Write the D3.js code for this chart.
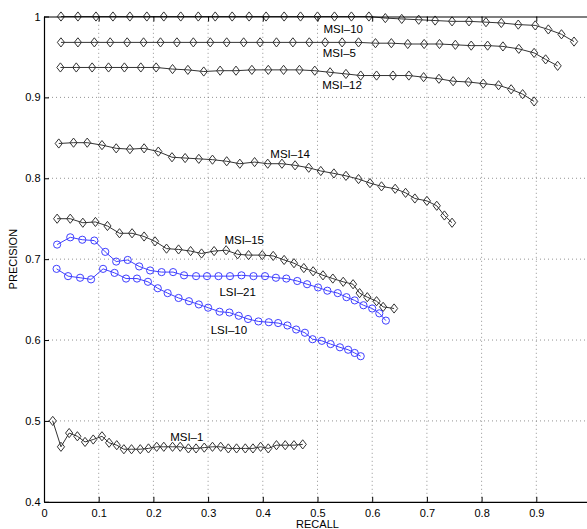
<!DOCTYPE html>
<html>
<head>
<meta charset="utf-8">
<script src="https://cdn.jsdelivr.net/npm/d3@7"></script>
<style>
  html, body { margin: 0; padding: 0; background: #fff; }
  svg { display: block; font-family: "Liberation Sans", Arial, Helvetica, sans-serif; }
  .tick text { font-size: 11px; fill: #000; }
  .curve-label { font-size: 11.5px; fill: #000; }
  .axis-title { font-size: 11px; fill: #000; }
</style>
</head>
<body>
<div id="chart"></div>
<script>
// precision / recall per run
const msi10Recall = [0.031,0.062,0.095,0.126,0.157,0.188,0.219,0.250,0.282,0.313,0.344,0.375,0.406,0.439,0.469,0.500,0.531,0.562,0.594,0.624,0.654,0.685,0.715,0.746,0.777,0.808,0.836,0.867,0.898,0.922,0.946,0.969];
const msi10Precision = [1,1,1,1,1,1,1,1,1,1,1,1,1,1,1,1,1,1,1,0.998,0.997,0.996,0.995,0.994,0.994,0.993,0.992,0.990,0.989,0.984,0.978,0.969];

const msi5Recall = [0.031,0.062,0.092,0.121,0.152,0.182,0.213,0.243,0.273,0.304,0.334,0.365,0.395,0.425,0.455,0.485,0.514,0.545,0.575,0.606,0.635,0.665,0.695,0.723,0.752,0.781,0.811,0.839,0.868,0.896,0.917,0.939];
const msi5Precision = [0.968,0.968,0.968,0.968,0.968,0.968,0.968,0.968,0.968,0.968,0.968,0.968,0.968,0.968,0.968,0.968,0.968,0.968,0.968,0.967,0.967,0.966,0.966,0.966,0.965,0.964,0.964,0.963,0.960,0.955,0.947,0.939];

const msi12Recall = [0.030,0.059,0.088,0.118,0.147,0.177,0.205,0.235,0.263,0.292,0.322,0.351,0.380,0.410,0.438,0.467,0.495,0.523,0.552,0.579,0.608,0.638,0.667,0.694,0.722,0.748,0.776,0.803,0.831,0.854,0.875,0.896];
const msi12Precision = [0.937,0.937,0.937,0.937,0.937,0.937,0.937,0.935,0.934,0.932,0.933,0.933,0.934,0.934,0.934,0.934,0.933,0.931,0.929,0.927,0.927,0.927,0.927,0.925,0.923,0.920,0.919,0.917,0.915,0.910,0.904,0.895];

const msi14Recall = [0.027,0.054,0.079,0.106,0.132,0.157,0.183,0.209,0.234,0.258,0.283,0.308,0.334,0.358,0.385,0.409,0.435,0.459,0.484,0.506,0.530,0.552,0.575,0.596,0.617,0.642,0.661,0.678,0.700,0.718,0.732,0.746];
const msi14Precision = [0.843,0.844,0.844,0.841,0.837,0.836,0.837,0.833,0.826,0.825,0.824,0.823,0.821,0.818,0.820,0.818,0.818,0.816,0.813,0.809,0.806,0.803,0.799,0.794,0.790,0.787,0.782,0.775,0.772,0.766,0.754,0.745];

const msi15Recall = [0.024,0.048,0.071,0.094,0.116,0.138,0.161,0.183,0.203,0.224,0.246,0.268,0.288,0.311,0.333,0.354,0.374,0.399,0.419,0.439,0.457,0.475,0.492,0.510,0.528,0.547,0.565,0.577,0.591,0.608,0.620,0.640];
const msi15Precision = [0.750,0.750,0.745,0.746,0.741,0.732,0.732,0.728,0.722,0.713,0.712,0.710,0.707,0.710,0.711,0.706,0.705,0.705,0.704,0.699,0.695,0.689,0.685,0.680,0.676,0.672,0.669,0.658,0.653,0.648,0.641,0.639];

const lsi21Recall = [0.024,0.048,0.070,0.092,0.112,0.132,0.153,0.174,0.194,0.215,0.236,0.256,0.278,0.298,0.319,0.340,0.361,0.383,0.404,0.424,0.443,0.463,0.481,0.501,0.518,0.537,0.553,0.568,0.584,0.600,0.613,0.625];
const lsi21Precision = [0.718,0.727,0.724,0.723,0.709,0.697,0.699,0.691,0.686,0.684,0.684,0.680,0.679,0.679,0.679,0.679,0.680,0.679,0.679,0.677,0.676,0.673,0.669,0.665,0.661,0.658,0.653,0.649,0.643,0.639,0.633,0.624];

const lsi10Recall = [0.023,0.044,0.066,0.086,0.108,0.129,0.150,0.170,0.190,0.208,0.226,0.246,0.265,0.283,0.300,0.321,0.339,0.356,0.373,0.392,0.411,0.428,0.445,0.461,0.477,0.491,0.508,0.524,0.541,0.556,0.568,0.579];
const lsi10Precision = [0.688,0.679,0.677,0.675,0.688,0.683,0.676,0.676,0.672,0.664,0.658,0.652,0.648,0.644,0.640,0.635,0.634,0.630,0.626,0.623,0.622,0.621,0.618,0.613,0.609,0.601,0.599,0.595,0.591,0.588,0.584,0.580];

const msi1Recall = [0.016,0.031,0.046,0.061,0.075,0.090,0.106,0.119,0.133,0.146,0.160,0.176,0.191,0.206,0.219,0.235,0.249,0.264,0.278,0.293,0.308,0.323,0.337,0.352,0.368,0.382,0.396,0.410,0.425,0.441,0.457,0.473];
const msi1Precision = [0.500,0.468,0.485,0.481,0.474,0.477,0.481,0.473,0.470,0.465,0.465,0.465,0.466,0.468,0.468,0.468,0.468,0.466,0.466,0.467,0.468,0.468,0.466,0.466,0.466,0.466,0.468,0.466,0.470,0.470,0.470,0.471];

// the x=1 end of the axis falls just past the picture's right edge
const xTicks = [0, 0.1, 0.2, 0.3, 0.4, 0.5, 0.6, 0.7, 0.8, 0.9];
const yTicks = [0.4, 0.5, 0.6, 0.7, 0.8, 0.9, 1];

// curve name -> where its label sits (recall, precision)
const labelNames = ['MSI–10', 'MSI–5', 'MSI–12', 'MSI–14', 'MSI–15', 'LSI–21', 'LSI–10', 'MSI–1'];
const labelRecall = [0.547, 0.540, 0.545, 0.450, 0.366, 0.354, 0.338, 0.261];
const labelPrecision = [0.9845, 0.9545, 0.9153, 0.8297, 0.7237, 0.6598, 0.6125, 0.4806];

const BLACK = '#333';
const BLUE = '#3f3fff';

const series = [
  {recall: msi10Recall, precision: msi10Precision, color: BLACK, marker: 'diamond'},
  {recall: msi5Recall, precision: msi5Precision, color: BLACK, marker: 'diamond'},
  {recall: msi12Recall, precision: msi12Precision, color: BLACK, marker: 'diamond'},
  {recall: msi14Recall, precision: msi14Precision, color: BLACK, marker: 'diamond'},
  {recall: msi15Recall, precision: msi15Precision, color: BLACK, marker: 'diamond'},
  {recall: lsi21Recall, precision: lsi21Precision, color: BLUE, marker: 'circle'},
  {recall: lsi10Recall, precision: lsi10Precision, color: BLUE, marker: 'circle'},
  {recall: msi1Recall, precision: msi1Precision, color: BLACK, marker: 'diamond'}
];

const width = 587;
const height = 529;
const margin = {left: 44, top: 16.5, right: -4, bottom: 27.2};

const svg = d3.select('#chart')
  .append('svg')
    .attr('width', width)
    .attr('height', height);

const x = d3.scaleLinear()
  .domain([0, 1])
  .range([margin.left, width - margin.right]);

const y = d3.scaleLinear()
  .domain([0.4, 1])
  .range([height - margin.bottom, margin.top]);

const fmt = d => (d === 0 || d === 1) ? String(d) : d3.format('.1f')(d);

// dotted grid
const grid = svg.append('g').attr('class', 'grid');
grid.selectAll('.vgrid')
  .data(xTicks.filter(d => d > 0))
  .enter().append('line')
    .attr('x1', d => x(d)).attr('x2', d => x(d))
    .attr('y1', y(0.4)).attr('y2', y(1))
    .attr('stroke', '#777')
    .attr('stroke-width', 0.8)
    .attr('stroke-dasharray', '1,3');
grid.selectAll('.hgrid')
  .data(yTicks.filter(d => d > 0.4 && d < 1))
  .enter().append('line')
    .attr('x1', x(0)).attr('x2', x(1))
    .attr('y1', d => y(d)).attr('y2', d => y(d))
    .attr('stroke', '#777')
    .attr('stroke-width', 0.8)
    .attr('stroke-dasharray', '1,3');

const line = d3.line()
  .x(d => x(d[0]))
  .y(d => y(d[1]));

const diamond = 'M0,-4.6L3.6,0L0,4.6L-3.6,0Z';

series.forEach(s => {
  const pts = s.recall.map((r, i) => [r, s.precision[i]]);

  svg.append('path')
    .datum(pts)
    .attr('fill', 'none')
    .attr('stroke', s.color)
    .attr('stroke-width', 1)
    .attr('d', line);

  const g = svg.append('g');
  if (s.marker === 'diamond') {
    g.selectAll('path')
      .data(pts)
      .enter().append('path')
        .attr('d', diamond)
        .attr('transform', d => `translate(${x(d[0])},${y(d[1])})`)
        .attr('fill', 'none')
        .attr('stroke', s.color)
        .attr('stroke-width', 1);
  } else {
    g.selectAll('circle')
      .data(pts)
      .enter().append('circle')
        .attr('cx', d => x(d[0]))
        .attr('cy', d => y(d[1]))
        .attr('r', 3.6)
        .attr('fill', 'none')
        .attr('stroke', s.color)
        .attr('stroke-width', 1);
  }
});

// axes, ticks pointing inward like matlab
svg.append('g')
  .attr('transform', `translate(0,${y(0.4)})`)
  .call(d3.axisBottom(x).tickValues(xTicks).tickFormat(fmt)
    .tickSizeInner(-5).tickSizeOuter(0).tickPadding(7.5));

svg.append('g')
  .attr('transform', `translate(0,${y(1)})`)
  .call(d3.axisTop(x).tickValues(xTicks).tickFormat('')
    .tickSizeInner(-5).tickSizeOuter(0));

svg.append('g')
  .attr('transform', `translate(${x(0)},0)`)
  .call(d3.axisLeft(y).tickValues(yTicks).tickFormat(fmt)
    .tickSizeInner(-5).tickSizeOuter(0).tickPadding(3.5));

svg.selectAll('.domain').attr('stroke', '#000').attr('stroke-width', 1.2);
svg.selectAll('.tick line').attr('stroke', '#000');
svg.selectAll('.tick text').attr('font-family', null).attr('font-size', null);

// curve labels
svg.selectAll('.curve-label')
  .data(labelNames)
  .enter().append('text')
    .attr('class', 'curve-label')
    .attr('x', (d, i) => x(labelRecall[i]))
    .attr('y', (d, i) => y(labelPrecision[i]))
    .attr('dy', '.36em')
    .attr('text-anchor', 'middle')
    .text(d => d);

svg.append('text')
  .attr('class', 'axis-title')
  .attr('x', 317.5)
  .attr('y', 528)
  .attr('text-anchor', 'middle')
  .text('RECALL');

svg.append('text')
  .attr('class', 'axis-title')
  .attr('transform', `translate(16.5,${y(0.7)}) rotate(-90)`)
  .attr('text-anchor', 'middle')
  .text('PRECISION');
</script>
</body>
</html>
